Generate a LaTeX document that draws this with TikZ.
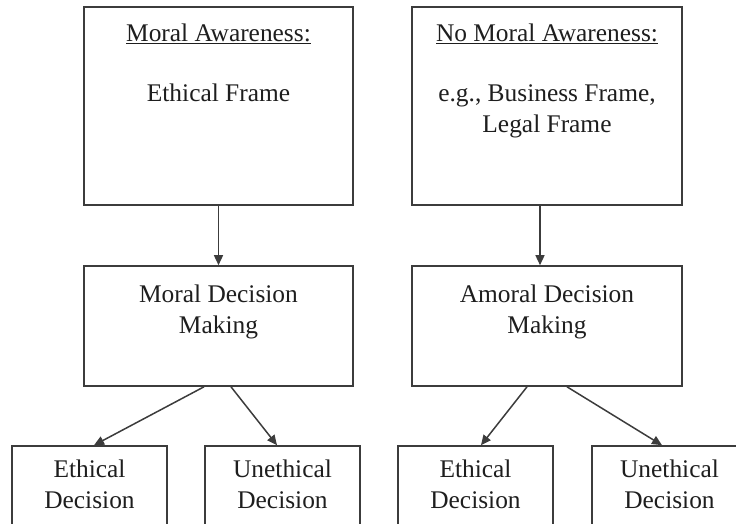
\documentclass[tikz,border=0pt]{standalone}
\usepackage{fontspec}
\setmainfont{Liberation Serif}
\usetikzlibrary{arrows.meta,positioning}
\definecolor{frame}{RGB}{60,60,60}
\definecolor{ink}{RGB}{30,30,30}
\tikzset{
  >={Triangle[length=10pt,width=9pt]},
  box/.style={draw=frame,line width=1.6pt,inner sep=0pt},
  txt/.style={text=ink,inner sep=0pt,align=center,anchor=north,
    font=\fontsize{25.4}{31}\selectfont},
  flow/.style={->,line width=1.5pt,draw=frame},
}
\begin{document}
\begin{tikzpicture}[x=1pt,y=-1pt]
  \clip (0,0) rectangle (736,523);
  % frames
  \node[box,minimum width=269pt,minimum height=198pt] (frL) at (218.5,106) {};
  \node[box,minimum width=270pt,minimum height=198pt] (frR) at (547,106) {};
  \node[txt] at ([yshift=-17pt]frL.north) {\underline{Moral Awareness:}\\[29pt]Ethical Frame};
  \node[txt] at ([yshift=-17pt]frR.north) {\underline{No Moral Awareness:}\\[29pt]e.g., Business Frame,\\Legal Frame};
  % decision making
  \node[box,minimum width=269pt,minimum height=120pt] (mdL) at (218.5,326) {};
  \node[box,minimum width=270pt,minimum height=120pt] (mdR) at (547,326) {};
  \node[txt] at ([yshift=-19pt]mdL.north) {Moral Decision\\Making};
  \node[txt] at ([yshift=-19pt]mdR.north) {Amoral Decision\\Making};
  % outcomes
  \foreach \n/\x/\t in {edL/89.5/Ethical,udL/282.5/Unethical,edR/475.5/Ethical,udR/669.5/Unethical}{
    \node[box,minimum width=155pt,minimum height=120pt] (\n) at (\x,506) {};
    \node[txt] at ([yshift=-14pt]\n.north) {\t\\Decision};
  }
  \draw[flow] (frL) -- (mdL);
  \draw[flow] ([xshift=-7pt]frR.south) -- ([xshift=-7pt]mdR.north);
  \draw[flow] ([xshift=-14.5pt]mdL.south) -- ([xshift=4.5pt]edL.north);
  \draw[flow] ([xshift=12.5pt]mdL.south) -- ([xshift=-5.5pt]udL.north);
  \draw[flow] ([xshift=-20pt]mdR.south) -- ([xshift=5.5pt]edR.north);
  \draw[flow] ([xshift=20pt]mdR.south) -- ([xshift=-7.5pt]udR.north);
\end{tikzpicture}
\end{document}
